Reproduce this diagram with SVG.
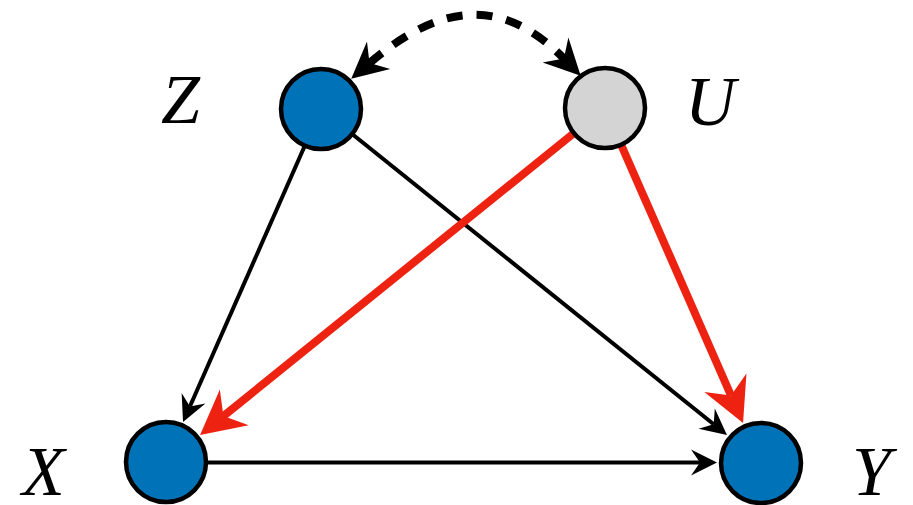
<svg xmlns="http://www.w3.org/2000/svg" width="913" height="505" viewBox="0 0 913 505">
<style>
.node{stroke:#000;stroke-width:4.5}
.blue{fill:#0072b8}
.gray{fill:#d4d4d4}
.lbl{font-family:"Liberation Serif","Times New Roman",serif;font-style:italic;font-size:70px;fill:#000}
.blk{stroke:#000;stroke-width:4;fill:none}
.red{stroke:#ee2211;stroke-width:8;fill:none}
.dash{stroke:#000;stroke-width:8;fill:none;stroke-dasharray:16 14}
</style>
<defs>
<marker id="ab" markerUnits="userSpaceOnUse" markerWidth="26" markerHeight="26" refX="9" refY="13" orient="auto" overflow="visible">
<path d="M0,0 L26,13 L0,26 L9,13 Z" fill="#000"/>
</marker>
<marker id="ar" markerUnits="userSpaceOnUse" markerWidth="44" markerHeight="46" refX="14" refY="23" orient="auto" overflow="visible">
<path d="M0,0 L44,23 L0,46 L14,23 Z" fill="#ee2211"/>
</marker>
<marker id="ad" markerUnits="userSpaceOnUse" markerWidth="36" markerHeight="36" refX="12" refY="18" orient="auto-start-reverse" overflow="visible">
<path d="M0,0 L36,18 L0,36 L12,18 Z" fill="#000"/>
</marker>
</defs>
<g id="connectors">
<path class="dash" d="M369.5,63.1 C438,4.8 501,-5.7 563.9,58.6" marker-start="url(#ad)" marker-end="url(#ad)"/>
<line class="blk" x1="321" y1="109" x2="189.9" y2="406.5" marker-end="url(#ab)"/>
<line class="blk" x1="321" y1="109" x2="713.7" y2="424.3" marker-end="url(#ab)"/>
<line class="blk" x1="166" y1="462.5" x2="700" y2="462.5" marker-end="url(#ab)"/>
<line class="red" x1="605" y1="108" x2="223.4" y2="416.1" marker-end="url(#ar)"/>
<line class="red" x1="605" y1="108" x2="731" y2="395.5" marker-end="url(#ar)"/>
</g>
<g id="Z"><circle class="node blue" cx="321" cy="109" r="40"/><text class="lbl" x="161" y="123">Z</text></g>
<g id="U"><circle class="node gray" cx="605" cy="108" r="40"/><text class="lbl" x="685" y="125">U</text></g>
<g id="X"><circle class="node blue" cx="166" cy="462" r="40"/><text class="lbl" x="22" y="495">X</text></g>
<g id="Y"><circle class="node blue" cx="761" cy="463" r="40"/><text class="lbl" x="852" y="495">Y</text></g>
</svg>
